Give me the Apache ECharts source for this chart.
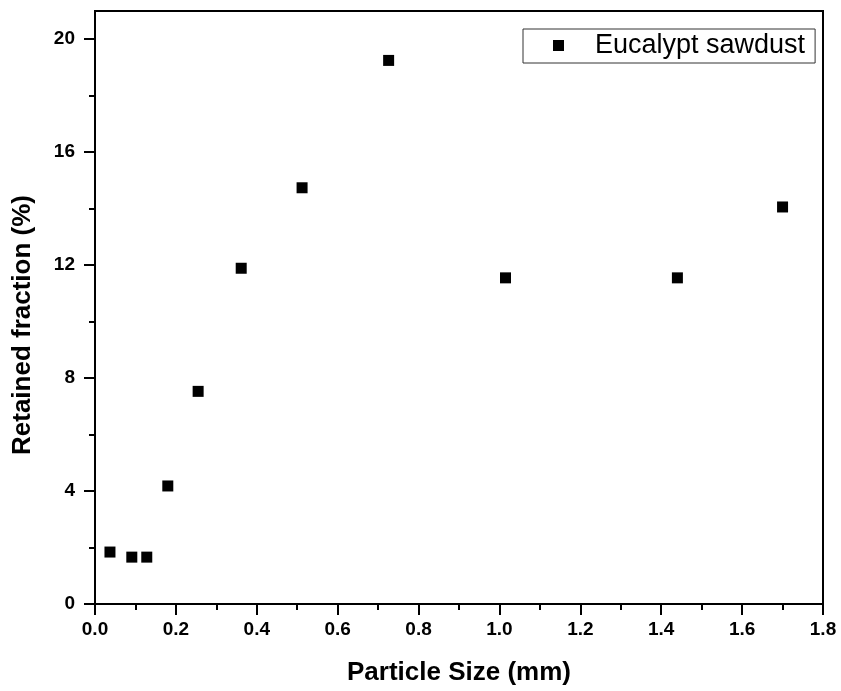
<!DOCTYPE html>
<html>
<head>
<meta charset="utf-8">
<title>Eucalypt sawdust – particle size distribution</title>
<script src="https://cdn.jsdelivr.net/npm/echarts@6/dist/echarts.min.js"></script>
<style>
  html, body { margin: 0; padding: 0; background: #fff; }
  #chart { width: 841px; height: 691px; }
</style>
</head>
<body>
<div id="chart"></div>
<script>
// Sieve fractions: particle size (mm) and retained mass fraction (%)
const particleSize = [0.037, 0.091, 0.128, 0.180, 0.255, 0.3615, 0.512, 0.726, 1.015, 1.440, 1.700];
const retainedFraction = [1.84, 1.66, 1.66, 4.18, 7.53, 11.89, 14.74, 19.25, 11.55, 11.55, 14.06];

const seriesName = 'Eucalypt sawdust';
const xTitle = 'Particle Size (mm)';
const yTitle = 'Retained fraction (%)';

// Y axis: labelled major ticks and unlabelled minor ticks
const yMajorTicks = [0, 4, 8, 12, 16, 20];
const yMinorTicks = [2, 6, 10, 14, 18];

const FONT = '"Liberation Sans", Arial, Helvetica, sans-serif';

const points = particleSize.map((x, i) => [x, retainedFraction[i]]);

const chart = echarts.init(document.getElementById('chart'), null, { renderer: 'canvas' });

chart.setOption({
  backgroundColor: '#ffffff',
  animation: false,
  grid: {
    left: 95, right: 18, top: 11, bottom: 87,
    show: true,
    borderColor: '#000',
    borderWidth: 2,
    backgroundColor: 'transparent'
  },
  legend: {
    left: 523,
    top: 29,
    orient: 'vertical',
    data: [seriesName],
    itemWidth: 11,
    itemHeight: 11,
    borderColor: '#333',
    borderWidth: 1,
    padding: [3, 10, 4, 30],
    itemStyle: { opacity: 1 },
    textStyle: {
      fontFamily: FONT,
      fontSize: 27,
      color: '#000',
      padding: [0, 0, 0, 26]
    }
  },
  xAxis: {
    type: 'value',
    min: 0,
    max: 1.8,
    interval: 0.2,
    name: xTitle,
    nameLocation: 'middle',
    nameGap: 56,
    nameTextStyle: { fontFamily: FONT, fontSize: 26, fontWeight: 'bold', color: '#000' },
    axisLine: { show: true, onZero: false, lineStyle: { color: '#000', width: 2 } },
    axisTick: { show: true, inside: false, length: 11, lineStyle: { color: '#000', width: 2 } },
    minorTick: { show: true, splitNumber: 2, length: 6, lineStyle: { color: '#000', width: 2 } },
    axisLabel: {
      margin: 16,
      fontFamily: FONT, fontSize: 19, fontWeight: 'bold', color: '#000',
      formatter: v => v.toFixed(1)
    },
    splitLine: { show: false }
  },
  yAxis: [
    {
      type: 'value',
      min: 0,
      max: 21,
      position: 'left',
      axisLine: { show: true, onZero: false, lineStyle: { color: '#000', width: 2 } },
      axisTick: { show: true, inside: false, length: 11, customValues: yMajorTicks, lineStyle: { color: '#000', width: 2 } },
      axisLabel: {
        margin: 20,
        customValues: yMajorTicks,
        fontFamily: FONT, fontSize: 19, fontWeight: 'bold', color: '#000'
      },
      splitLine: { show: false }
    },
    {
      type: 'value',
      min: 0,
      max: 21,
      position: 'left',
      axisLine: { show: false },
      axisTick: { show: true, inside: false, length: 6, customValues: yMinorTicks, lineStyle: { color: '#000', width: 2 } },
      axisLabel: { show: false },
      splitLine: { show: false }
    }
  ],
  graphic: [
    {
      type: 'text',
      x: 23,
      y: 325,
      rotation: Math.PI / 2,
      style: {
        text: yTitle,
        font: 'bold 26px ' + FONT,
        fill: '#000',
        textAlign: 'center',
        textVerticalAlign: 'middle'
      }
    }
  ],
  series: [
    {
      name: seriesName,
      type: 'scatter',
      yAxisIndex: 0,
      symbol: 'rect',
      symbolSize: 11,
      itemStyle: { color: '#000', opacity: 1 },
      data: points
    }
  ]
});
</script>
</body>
</html>
